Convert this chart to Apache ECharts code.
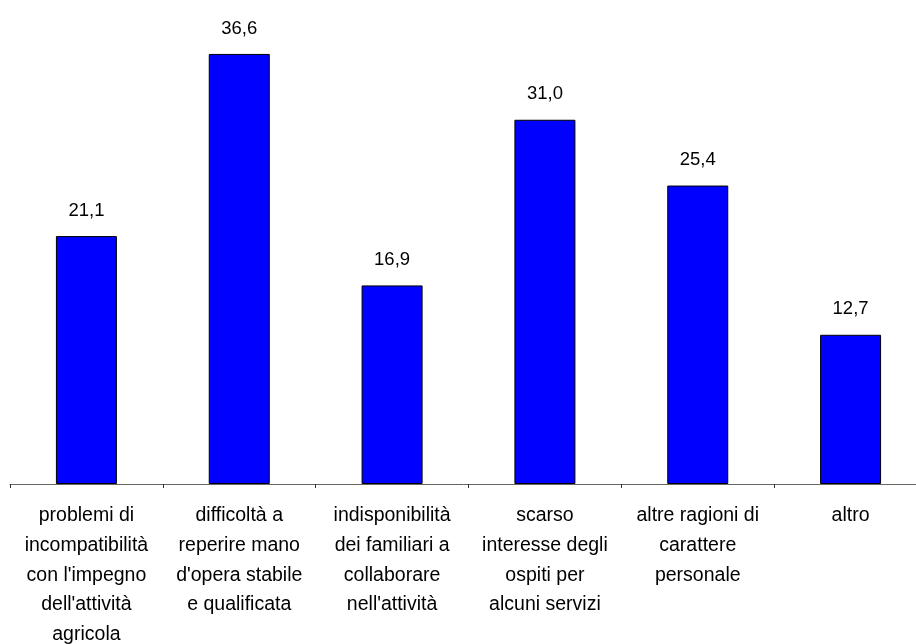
<!DOCTYPE html>
<html><head><meta charset="utf-8">
<script src="https://cdn.jsdelivr.net/npm/echarts@6/dist/echarts.min.js"></script>
<style>html,body{margin:0;padding:0;background:#fff}#c{width:916px;height:644px}</style>
</head><body><div id="c"></div>
<script>
const categories = [
  "problemi di\nincompatibilità\ncon l'impegno\ndell'attività\nagricola",
  "difficoltà a\nreperire mano\nd'opera stabile\ne qualificata",
  "indisponibilità\ndei familiari a\ncollaborare\nnell'attività",
  "scarso\ninteresse degli\nospiti per\nalcuni servizi",
  "altre ragioni di\ncarattere\npersonale",
  "altro"
];
const values = [21.1, 36.6, 16.9, 31.0, 25.4, 12.7];

const chart = echarts.init(document.getElementById('c'));
chart.setOption({
  animation: false,
  grid: {left: 10, width: 917, top: 14, height: 470, containLabel: false, outerBoundsMode: 'none'},
  xAxis: {
    type: 'category', data: categories,
    axisLine: {lineStyle: {color: '#666', width: 1}},
    axisTick: {show: true, length: 4, lineStyle: {color: '#333'}},
    axisLabel: {interval: 0, color: '#000', fontFamily: 'Liberation Sans, Arial', fontSize: 19.5, lineHeight: 29.7, margin: 17}
  },
  yAxis: {type: 'value', min: 0, max: 40, show: false, splitLine: {show: false}},
  series: [{
    type: 'bar', data: values, barWidth: 61,
    itemStyle: {color: '#0000FF', borderColor: '#000', borderWidth: 1},
    label: {show: true, position: 'top', distance: 16, color: '#000', fontFamily: 'Liberation Sans, Arial', fontSize: 18.5,
      formatter: p => p.value.toFixed(1).replace('.', ',')}
  }]
});
</script></body></html>
